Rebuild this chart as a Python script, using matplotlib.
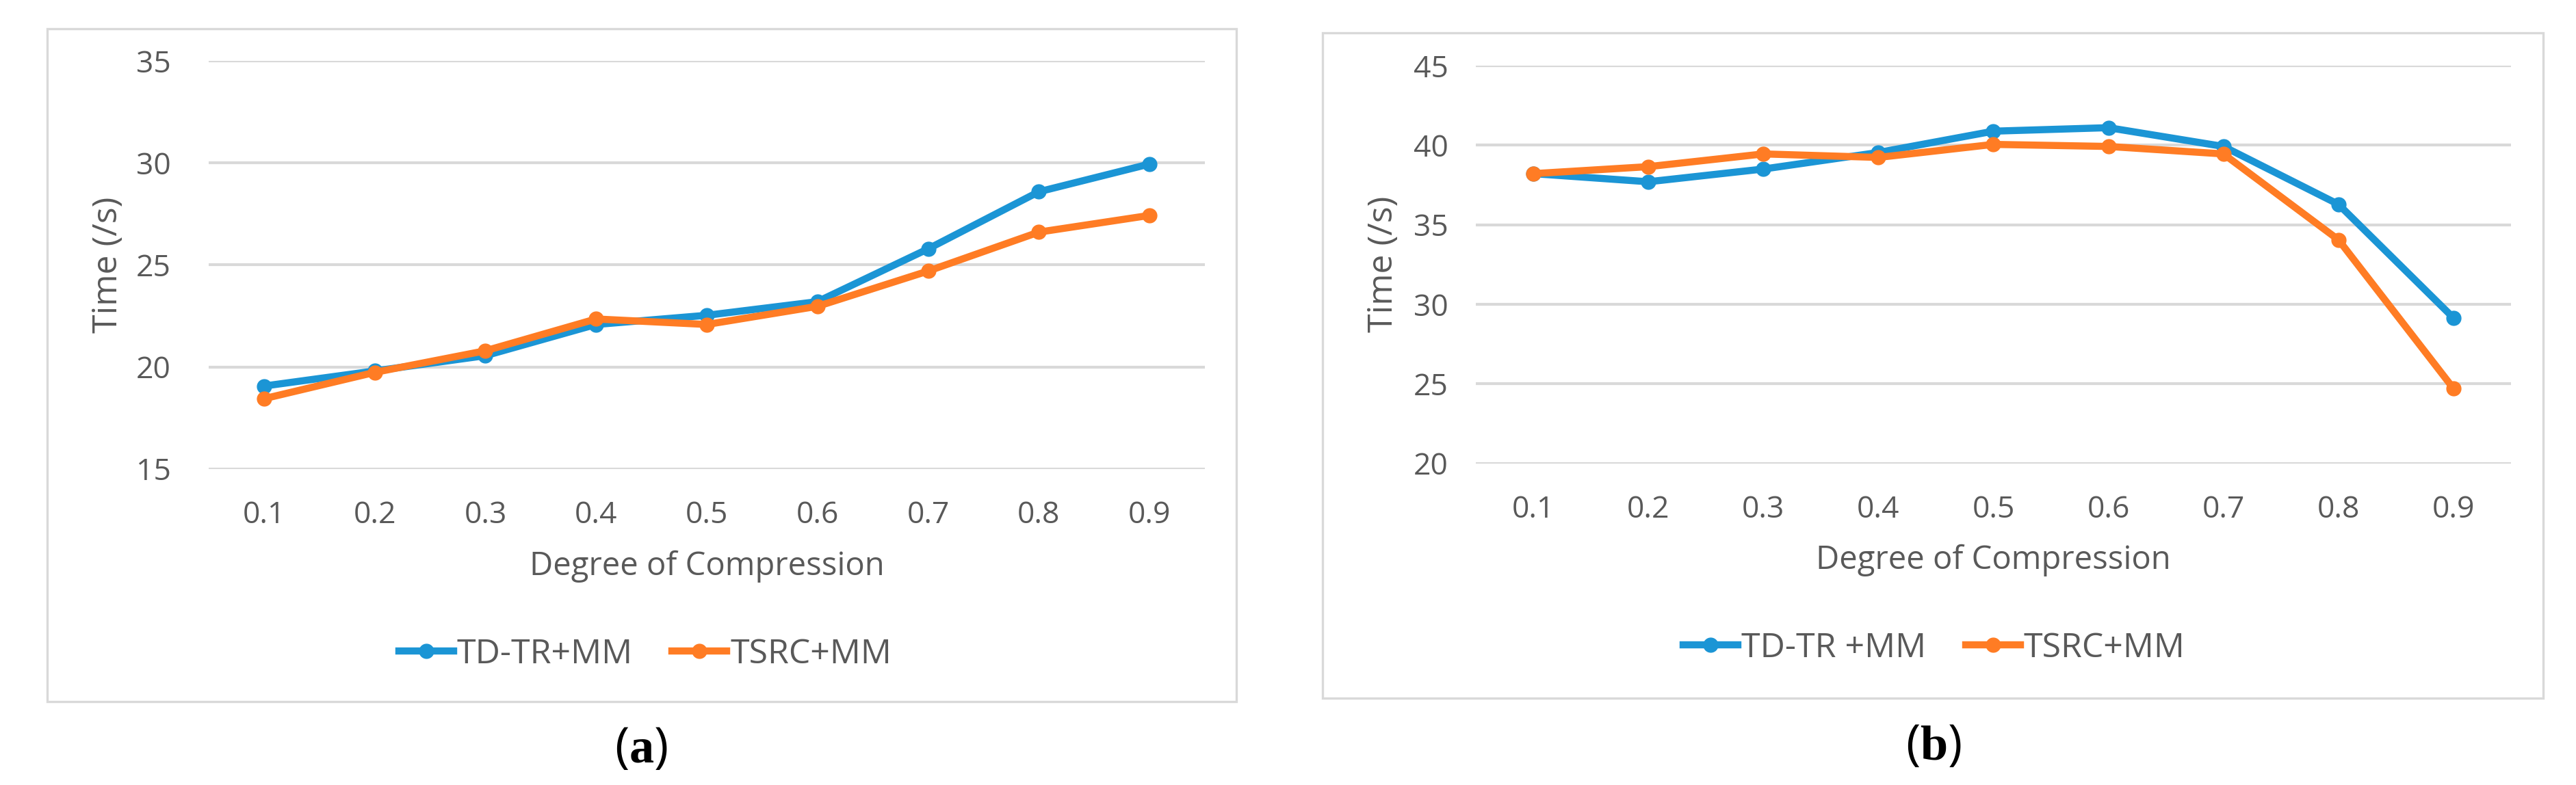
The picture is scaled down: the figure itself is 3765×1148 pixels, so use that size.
import matplotlib
matplotlib.use('Agg')
import matplotlib.pyplot as plt
from matplotlib.patches import Rectangle

# 字体与数学文本
plt.rcParams['font.family'] = ['Open Sans', 'DejaVu Sans']
plt.rcParams['mathtext.fontset'] = 'custom'
plt.rcParams['mathtext.rm'] = 'Liberation Serif'
plt.rcParams['mathtext.bf'] = 'Liberation Serif:bold'

# ---------------------- 1. 数据 ----------------------
compression = ['0.1', '0.2', '0.3', '0.4', '0.5', '0.6', '0.7', '0.8', '0.9']

# (a)
tdtr_a = [19.06, 19.8, 20.55, 22.08, 22.53, 23.2, 25.79, 28.59, 29.95]
tsrc_a = [18.44, 19.73, 20.79, 22.35, 22.08, 22.97, 24.7, 26.61, 27.43]

# (b)
tdtr_b = [38.21, 37.7, 38.5, 39.54, 40.88, 41.1, 39.92, 36.28, 29.14]
tsrc_b = [38.21, 38.65, 39.45, 39.23, 40.05, 39.92, 39.45, 34.05, 24.7]

BLUE = '#1B95D5'
ORANGE = '#FF7C24'
TXT = '#595959'
GRID = '#D9D9D9'

W, H = 3766, 1148
fig = plt.figure(figsize=(W / 100, H / 100), dpi=100)


def px_axes(x0, y0, x1, y1):
    # 像素坐标 -> figure 坐标
    return fig.add_axes([x0 / W, 1 - y1 / H, (x1 - x0) / W, (y1 - y0) / H])


def frame(x0, y0, x1, y1):
    fig.patches.append(Rectangle((x0 / W, 1 - y1 / H), (x1 - x0) / W, (y1 - y0) / H,
                                 transform=fig.transFigure, fill=False,
                                 edgecolor=GRID, linewidth=2.4, zorder=0))


def draw_panel(ax, s1, s2, lab1, lab2, ylim, yticks, ypad, ylab_x, xlab_y, leg_xy, tag, tag_xy):
    x = list(range(len(compression)))
    ax.plot(x, s1, color=BLUE, lw=7.5, marker='o', ms=15, label=lab1, solid_joinstyle='round')
    ax.plot(x, s2, color=ORANGE, lw=7.5, marker='o', ms=15, label=lab2, solid_joinstyle='round')
    ax.set_xlim(-0.5, len(compression) - 0.5)
    ax.set_ylim(*ylim)
    ax.set_yticks(yticks)
    ax.set_xticks(x)
    ax.set_xticklabels(compression)
    ax.grid(axis='y', color=GRID, lw=3)
    ax.set_axisbelow(True)
    for sp in ax.spines.values():
        sp.set_visible(False)
    ax.tick_params(length=0, labelsize=32, labelcolor=TXT)
    ax.tick_params(axis='x', pad=33)
    ax.tick_params(axis='y', pad=ypad)
    ax.set_ylabel('Time (/s)', fontsize=36, color=TXT)
    ax.yaxis.set_label_coords(ylab_x, 0.5)
    ax.yaxis.label.set_va('center')
    ax.set_xlabel('Degree of Compression', fontsize=34, color=TXT)
    ax.xaxis.set_label_coords(0.5, xlab_y)
    ax.xaxis.label.set_va('center')
    fig.legend(*ax.get_legend_handles_labels(), loc='center', ncol=2,
               bbox_to_anchor=(leg_xy[0] / W, 1 - leg_xy[1] / H), frameon=False,
               fontsize=36, labelcolor=TXT, handlelength=1.6, handletextpad=0.1,
               columnspacing=1.15)
    fig.text(tag_xy[0] / W, 1 - tag_xy[1] / H, tag, fontsize=52,
             ha='center', va='center', color='black')


# ---------------------- 2. 绘图 ----------------------
frame(69, 42, 1807, 1026)
ax1 = px_axes(305, 89.3, 1761, 685.6)
draw_panel(ax1, tdtr_a, tsrc_a, 'TD-TR+MM', 'TSRC+MM', (15, 35), [15, 20, 25, 30, 35],
           40, -0.101, -0.239, (943, 957), r'($\mathbf{a}$)', (937, 1096))

frame(1933, 48, 3717, 1021)
ax2 = px_axes(2157, 96, 3670, 677.5)
draw_panel(ax2, tdtr_b, tsrc_b, 'TD-TR +MM', 'TSRC+MM', (20, 45), [20, 25, 30, 35, 40, 45],
           29, -0.089, -0.243, (2827, 948), r'($\mathbf{b}$)', (2826, 1092))

plt.savefig('out.png', dpi=100)
